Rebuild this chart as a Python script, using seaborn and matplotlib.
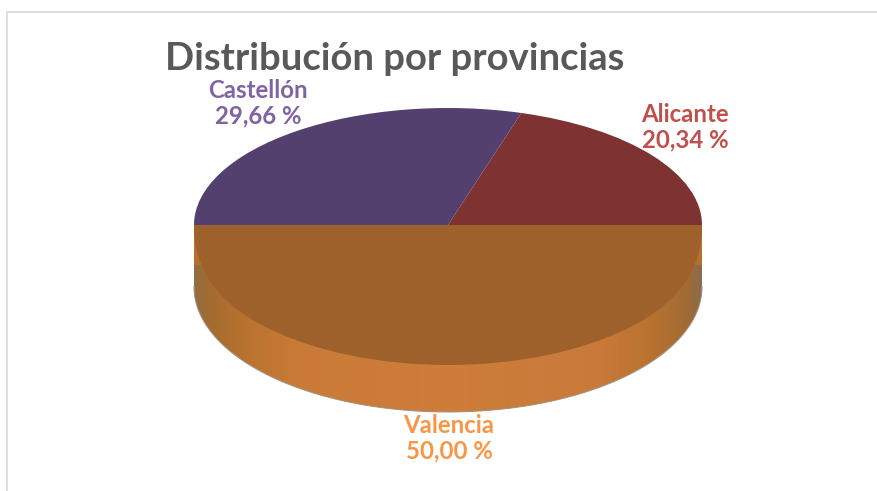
"""
Pie chart with a fake 3D look: distribution by province.
"""
import numpy as np
import seaborn as sns
import matplotlib.pyplot as plt
from matplotlib.colors import LinearSegmentedColormap
from matplotlib.patches import Rectangle

# data
provincias = ['Valencia', 'Alicante', 'Castellón']
porcentajes = [50.00, 20.34, 29.66]
titulo = 'Distribución por provincias'

# colours
TOP_COLORS = sns.color_palette(['#9f612c', '#7e3232', '#54406e'])
LABEL_COLORS = ['#f79646', '#c0504d', '#8064a2']
TITLE_COLOR = '#595959'
RIM_COLOR = '#b5702c'
WALL_STOPS = [(0.0, '#936c40'), (0.035, '#a56b2f'), (0.1, '#b8722f'), (0.2, '#c97a36'),
              (0.5, '#cd7d39'), (0.8, '#c9793a'), (0.9, '#b8722f'), (0.975, '#a06a35'),
              (1.0, '#8a6c4c')]

sns.set_theme(style='white')
plt.rcParams['font.family'] = ['Lato', 'DejaVu Sans']

W, H = 878, 491
CX, CY, RX = 448, 225, 254      # centre and x radius in pixels
TOP_PX, FRONT_PX = 117, 125     # y radius of the back and front halves
DROP_PX = 15                    # front half of the surface sits a bit lower
WALL_PX = 47                    # wall depth, front
RIM_END_PX = 40                 # plain rim down to here, below the centre line
k_top, k_front = TOP_PX / RX, FRONT_PX / RX
EPS = 1e-4                      # pie works in float32, its end points are not exactly on y=0


def forward(y):
    y = np.asarray(y, dtype=float)
    return np.where(y > -EPS, y * k_top, y * k_front - DROP_PX / RX)


def inverse(y):
    y = np.asarray(y, dtype=float)
    return np.where(y > 0, y / k_top, (y + DROP_PX / RX) / k_front)


fig = plt.figure(figsize=(W / 100, H / 100), dpi=100)
ax = fig.add_axes([0, 0, 1, 1])

# side wall, lower half shifted down, gradient clipped to it
depth = WALL_PX / FRONT_PX
wall, _ = ax.pie([1], center=(0, -depth), colors=['none'], normalize=False, radius=1)
wall[0].set_theta1(180)
wall[0].set_theta2(360)

# top surface
wedges, _ = ax.pie(porcentajes, colors=TOP_COLORS, startangle=180,
                   counterclock=True, radius=1, wedgeprops={'linewidth': 0})
for w in wedges:
    w.set_zorder(5)

ax.set_aspect('auto')
ax.set_yscale('function', functions=(forward, inverse))

wall_cmap = LinearSegmentedColormap.from_list('wall', WALL_STOPS)
xs = np.linspace(-1.0, 1.0, 400)
shade = ((xs[:-1] + xs[1:]) / 2)[None, :]
rim_y = -(RIM_END_PX - DROP_PX) / FRONT_PX
low = ax.pcolormesh(xs, [-1 - depth, -depth], shade, cmap=wall_cmap, vmin=-1, vmax=1, zorder=2)
low.set_clip_path(wall[0])
ax.pcolormesh(xs, [-depth, rim_y], shade, cmap=wall_cmap, vmin=-1, vmax=1, zorder=2)
ax.pcolormesh(xs, [rim_y, 0], shade * 0, cmap=LinearSegmentedColormap.from_list('rim', [RIM_COLOR, RIM_COLOR]),
              zorder=2)

# thin grey outline along the bottom of the wall
t = np.linspace(np.pi, 2 * np.pi, 200)
ax.plot(np.cos(t), np.sin(t) - depth, color='#a09080', linewidth=0.7, zorder=3)

ax.set_xlim(-CX / RX, (W - CX) / RX)
ax.set_ylim(float(inverse(-(H - CY) / RX)), CY / TOP_PX)
ax.set_axis_off()


# labels, positions in pixels from the top left
def label_at(px, py, txt, **kw):
    fig.text(px / W, 1 - py / H, txt, ha='center', va='center', fontweight='bold', **kw)


label_at(395, 59, titulo, fontsize=27.5, color=TITLE_COLOR)
positions = {'Valencia': (449, 438), 'Alicante': (685, 127), 'Castellón': (258, 103)}
for prov, val, col in zip(provincias, porcentajes, LABEL_COLORS):
    px, py = positions[prov]
    label_at(px, py, prov + '\n' + f'{val:.2f} %'.replace('.', ','), fontsize=17.3,
             color=col, linespacing=1.13)

# chart frame
fig.add_artist(Rectangle((7.5 / W, -0.02), 1, 1 - 11.5 / H + 0.02, transform=fig.transFigure,
                         fill=False, edgecolor='#d9d9d9', linewidth=1.2))

fig.savefig('out.png', dpi=100)
